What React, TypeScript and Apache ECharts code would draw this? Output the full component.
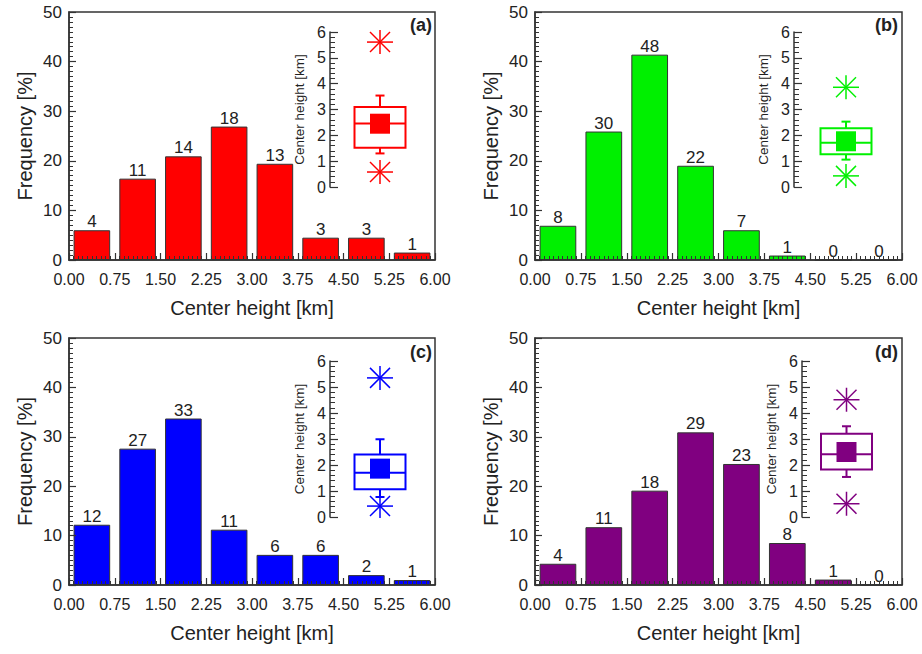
import React, { useEffect, useRef } from 'react';
import * as echarts from 'echarts';

const binLabels = ['0.00-0.75', '0.75-1.50', '1.50-2.25', '2.25-3.00', '3.00-3.75', '3.75-4.50', '4.50-5.25', '5.25-6.00'];
const freqA = [6.0, 16.4, 20.9, 26.9, 19.4, 4.5, 4.5, 1.5];
const countA = [4, 11, 14, 18, 13, 3, 3, 1];
const freqB = [6.9, 25.9, 41.4, 19.0, 6.0, 0.9, 0, 0];
const countB = [8, 30, 48, 22, 7, 1, 0, 0];
const freqC = [12.2, 27.6, 33.7, 11.2, 6.1, 6.1, 2.0, 1.0];
const countC = [12, 27, 33, 11, 6, 6, 2, 1];
const freqD = [4.3, 11.7, 19.1, 30.9, 24.5, 8.5, 1.1, 0];
const countD = [4, 11, 18, 29, 23, 8, 1, 0];
// inset stats: [whiskerLow, q1, median, q3, whiskerHigh, mean, min, max]
const boxA = [1.30, 1.52, 2.46, 3.10, 3.54, 2.45, 0.58, 5.61];
const boxB = [1.06, 1.27, 1.71, 2.27, 2.53, 1.77, 0.43, 3.86];
const boxC = [0.77, 1.07, 1.70, 2.40, 2.99, 1.86, 0.42, 5.35];
const boxD = [1.54, 1.83, 2.41, 3.20, 3.49, 2.50, 0.51, 4.51];
const panelLetters = ['(a)', '(b)', '(c)', '(d)'];

const FONT = '"Liberation Sans", Arial, Helvetica, sans-serif';
const TXT = '#222';

const panels = [
  { freq: freqA, count: countA, box: boxA, color: '#ff0000', letter: panelLetters[0],
    grid: { left: 69, top: 12, width: 366, height: 248 },
    inset: { left: 330, top: 32, width: 100, height: 155 }, letterPos: [432, 25] },
  { freq: freqB, count: countB, box: boxB, color: '#00f000', letter: panelLetters[1],
    grid: { left: 535, top: 12, width: 367, height: 248 },
    inset: { left: 794, top: 32, width: 104, height: 155 }, letterPos: [898, 25] },
  { freq: freqC, count: countC, box: boxC, color: '#0000ff', letter: panelLetters[2],
    grid: { left: 69, top: 338, width: 366, height: 247 },
    inset: { left: 330, top: 361, width: 100, height: 156 }, letterPos: [432, 352] },
  { freq: freqD, count: countD, box: boxD, color: '#800080', letter: panelLetters[3],
    grid: { left: 535, top: 338, width: 367, height: 247 },
    inset: { left: 802, top: 361, width: 89, height: 156 }, letterPos: [898, 352] },
];

function renderBox(color: string) {
  return (params: any, api: any) => {
    const x = api.value(0);
    const P = (v: number) => api.coord([x, v]);
    const lo = P(api.value(1));
    const q1 = P(api.value(2));
    const md = P(api.value(3));
    const q3 = P(api.value(4));
    const hi = P(api.value(5));
    const mn = P(api.value(6));
    const mi = P(api.value(7));
    const ma = P(api.value(8));
    const cx = lo[0];
    const hw = 25.5;
    const cap = 4.5;
    const st = { stroke: color, lineWidth: 2, fill: 'none' };
    const children: any[] = [
      { type: 'line', shape: { x1: cx, y1: q3[1], x2: cx, y2: hi[1] }, style: st },
      { type: 'line', shape: { x1: cx - cap, y1: hi[1], x2: cx + cap, y2: hi[1] }, style: st },
      { type: 'line', shape: { x1: cx, y1: q1[1], x2: cx, y2: lo[1] }, style: st },
      { type: 'line', shape: { x1: cx - cap, y1: lo[1], x2: cx + cap, y2: lo[1] }, style: st },
      { type: 'rect', shape: { x: cx - hw, y: q3[1], width: 2 * hw, height: q1[1] - q3[1] }, style: { stroke: color, lineWidth: 2, fill: '#fff' } },
      { type: 'line', shape: { x1: cx - hw, y1: md[1], x2: cx + hw, y2: md[1] }, style: st },
      { type: 'rect', shape: { x: cx - 10, y: mn[1] - 10, width: 20, height: 20 }, style: { fill: color, stroke: 'none' } },
    ];
    [mi, ma].forEach((p) => {
      const sst = { stroke: color, lineWidth: 1.5 };
      children.push(
        { type: 'line', shape: { x1: cx - 13, y1: p[1], x2: cx + 13, y2: p[1] }, style: sst },
        { type: 'line', shape: { x1: cx, y1: p[1] - 12, x2: cx, y2: p[1] + 12 }, style: sst },
        { type: 'line', shape: { x1: cx - 10, y1: p[1] - 10, x2: cx + 10, y2: p[1] + 10 }, style: sst },
        { type: 'line', shape: { x1: cx - 10, y1: p[1] + 10, x2: cx + 10, y2: p[1] - 10 }, style: sst },
      );
    });
    return { type: 'group', children };
  };
}

function buildOption() {
  const grid: any[] = [];
  const xAxis: any[] = [];
  const yAxis: any[] = [];
  const series: any[] = [];
  const graphic: any[] = [];
  panels.forEach((p, i) => {
    grid.push({ ...p.grid, show: true, borderColor: '#333', borderWidth: 1.5, backgroundColor: 'transparent', containLabel: false });
    grid.push({ ...p.inset, show: false, containLabel: false });
    const gMain = 2 * i;
    const gIn = 2 * i + 1;
    xAxis.push({
      type: 'value', gridIndex: gMain, min: 0, max: 6, interval: 0.75, z: 5,
      name: 'Center height [km]', nameLocation: 'middle', nameGap: 38,
      nameTextStyle: { fontSize: 20, color: TXT, fontFamily: FONT },
      axisLine: { show: true, lineStyle: { color: '#333', width: 1.5 } },
      axisTick: { show: true, inside: true, length: 7, lineStyle: { color: '#333', width: 1.2 } },
      minorTick: { show: true, splitNumber: 10, length: 4, lineStyle: { color: '#333', width: 1 } },
      splitLine: { show: false }, minorSplitLine: { show: false },
      axisLabel: { fontSize: 16, color: TXT, fontFamily: FONT, margin: 11, formatter: (v: number) => v.toFixed(2) },
    });
    const xc = xAxis.length;
    xAxis.push({ type: 'category', gridIndex: gMain, data: binLabels, show: false, boundaryGap: true });
    const xi = xAxis.length;
    xAxis.push({ type: 'value', gridIndex: gIn, min: 0, max: 1, show: false });
    const yv = yAxis.length;
    yAxis.push({
      type: 'value', gridIndex: gMain, min: 0, max: 50, interval: 10, z: 5,
      name: 'Frequency [%]', nameLocation: 'middle', nameGap: 34,
      nameTextStyle: { fontSize: 20, color: TXT, fontFamily: FONT },
      axisLine: { show: true, lineStyle: { color: '#333', width: 1.5 } },
      axisTick: { show: true, inside: true, length: 7, lineStyle: { color: '#333', width: 1.2 } },
      minorTick: { show: true, splitNumber: 10, length: 4, lineStyle: { color: '#333', width: 1 } },
      splitLine: { show: false }, minorSplitLine: { show: false },
      axisLabel: { fontSize: 17, color: TXT, fontFamily: FONT, margin: 7 },
    });
    const yi = yAxis.length;
    yAxis.push({
      type: 'value', gridIndex: gIn, min: 0, max: 6, interval: 1,
      name: 'Center height [km]', nameLocation: 'middle', nameGap: 24,
      nameTextStyle: { fontSize: 13.5, color: TXT, fontFamily: FONT },
      axisLine: { show: true, lineStyle: { color: '#333', width: 1.5 } },
      axisTick: { show: true, inside: true, length: 8, lineStyle: { color: '#333', width: 1.2 } },
      minorTick: { show: true, splitNumber: 5, length: 5, lineStyle: { color: '#333', width: 1 } },
      splitLine: { show: false }, minorSplitLine: { show: false },
      axisLabel: { fontSize: 16, color: TXT, fontFamily: FONT, margin: 4 },
    });
    const counts = p.count;
    series.push({
      type: 'bar', xAxisIndex: xc, yAxisIndex: yv, data: p.freq, barCategoryGap: '20%',
      itemStyle: { color: p.color, borderColor: '#333', borderWidth: 1 },
      label: { show: true, position: 'top', distance: 0, fontSize: 17, color: TXT, fontFamily: FONT,
        formatter: (q: any) => String(counts[q.dataIndex]) },
    });
    series.push({
      type: 'custom', xAxisIndex: xi, yAxisIndex: yi, renderItem: renderBox(p.color),
      data: [[0.5, ...p.box]], encode: { x: 0, y: [1, 2, 3, 4, 5, 6, 7, 8] }, clip: false,
    });
    graphic.push({
      type: 'text', x: p.letterPos[0], y: p.letterPos[1],
      style: { text: p.letter, textAlign: 'right', textVerticalAlign: 'middle', fontSize: 18, fontWeight: 'bold', fill: TXT, fontFamily: FONT },
    });
  });
  return { animation: false, backgroundColor: '#fff', grid, xAxis, yAxis, series, graphic };
}

export default function App() {
  const ref = useRef<HTMLDivElement>(null);
  useEffect(() => {
    if (!ref.current) return;
    const chart = echarts.init(ref.current, undefined, { renderer: 'svg' });
    chart.setOption(buildOption() as any);
    return () => chart.dispose();
  }, []);
  return <div ref={ref} style={{ position: 'fixed', left: 0, top: 0, width: 922, height: 654, background: '#fff' }} />;
}
